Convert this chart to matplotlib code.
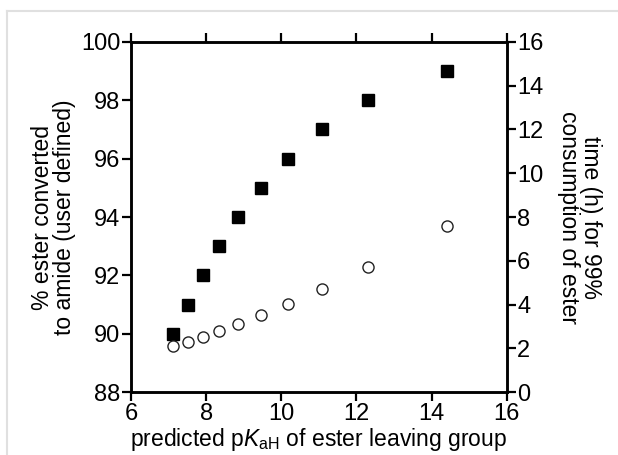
import matplotlib
matplotlib.use("Agg")
import matplotlib.pyplot as plt
from matplotlib.lines import Line2D

plt.rcParams.update({
    "font.family": ["Liberation Sans", "DejaVu Sans"],
    "font.size": 16,
    "mathtext.fontset": "custom",
    "mathtext.rm": "Liberation Sans",
    "mathtext.it": "Liberation Sans:italic",
})

# predicted pKaH of ester leaving group
pka = [7.12, 7.51, 7.91, 8.34, 8.86, 9.45, 10.17, 11.08, 12.30, 14.41]
# % ester converted to amide (left axis)
conversion = [90, 91, 92, 93, 94, 95, 96, 97, 98, 99]
# time (h) for 99% consumption of ester (right axis)
time_h = [2.11, 2.31, 2.51, 2.81, 3.11, 3.52, 4.01, 4.71, 5.71, 7.59]

x_ticks = [6, 8, 10, 12, 14, 16]
left_ticks = [88, 90, 92, 94, 96, 98, 100]
right_ticks = [0, 2, 4, 6, 8, 10, 12, 14, 16]

fig = plt.figure(figsize=(6.18, 4.55), dpi=100)
ax = fig.add_axes([0.212, 0.138, 0.608, 0.770])
ax2 = ax.twinx()

ax.plot(pka, conversion, linestyle="none", marker="s", markersize=8.6,
        color="black", zorder=3)
ax2.plot(pka, time_h, linestyle="none", marker="o", markersize=8,
         markerfacecolor="white", markeredgecolor="#222222", markeredgewidth=1.0)

ax.set_xlim(6, 16)
ax.set_ylim(88, 100)
ax2.set_ylim(0, 16)
ax.set_xticks(x_ticks)
ax.set_yticks(left_ticks)
ax2.set_yticks(right_ticks)

for a in (ax, ax2):
    for s in a.spines.values():
        s.set_linewidth(1.8)
ax.tick_params(axis="both", direction="out", length=6.5, width=1.6, pad=1,
               top=True, labelsize=17)
ax2.tick_params(axis="y", direction="out", length=6.5, width=1.6, pad=1,
                labelsize=17)

ax.set_xlabel(r"predicted p$K_{\mathrm{aH}}$ of ester leaving group",
              fontsize=16.5, labelpad=1)
ax.set_ylabel("% ester converted\nto amide (user defined)", fontsize=16.5,
              labelpad=4, linespacing=0.9)
ax2.set_ylabel("time (h) for 99%\nconsumption of ester", fontsize=16.5,
               rotation=270, labelpad=42, linespacing=0.95)

# light grey frame at top-left of the image
fig.add_artist(Line2D([7 / 618, 7 / 618], [0, 1 - 11 / 455],
                      color="#e0e0e0", linewidth=1.5))
fig.add_artist(Line2D([7 / 618, 1], [1 - 11 / 455, 1 - 11 / 455],
                      color="#e0e0e0", linewidth=1.5))

fig.savefig("out.png", dpi=100)
